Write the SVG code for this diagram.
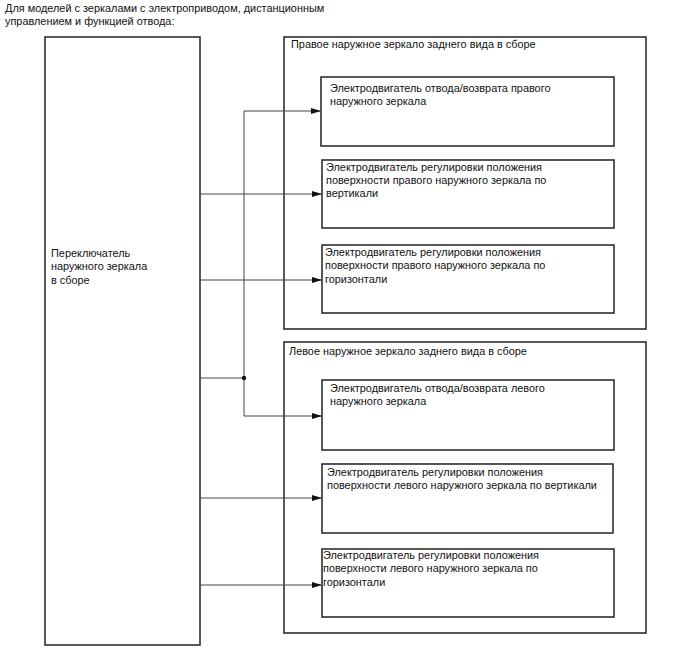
<svg xmlns="http://www.w3.org/2000/svg" width="688" height="658" viewBox="0 0 688 658">
<style>
text{font-family:"Liberation Sans",Arial,sans-serif;font-size:10.9px;fill:#111}
.box{fill:#fff;stroke:#222;stroke-width:1.5}
.ln{fill:none;stroke:#444;stroke-width:1}
</style>
<defs>
<marker id="ah" viewBox="0 0 10 6" refX="10" refY="3" markerWidth="10" markerHeight="6" markerUnits="userSpaceOnUse" orient="auto">
<path d="M0,0 L10,3 L0,6 z" fill="#111"/>
</marker>
</defs>
<rect width="688" height="658" fill="#fff"/>
<g id="title">
<text x="5" y="12">Для моделей с зеркалами с электроприводом, дистанционным</text>
<text x="5" y="25">управлением и функцией отвода:</text>
</g>
<g id="switch">
<rect class="box" x="45" y="37" width="155" height="608"/>
<text x="51" y="257">Переключатель</text>
<text x="51" y="270">наружного зеркала</text>
<text x="51" y="284">в сборе</text>
</g>
<g id="right-mirror">
<rect class="box" x="284" y="37" width="362" height="292"/>
<text x="291" y="48">Правое наружное зеркало заднего вида в сборе</text>
</g>
<g id="left-mirror">
<rect class="box" x="284" y="342" width="362" height="291"/>
<text x="289" y="355">Левое наружное зеркало заднего вида в сборе</text>
</g>
<g id="r-fold">
<rect class="box" x="321" y="77" width="293" height="69"/>
<text x="330" y="92">Электродвигатель отвода/возврата правого</text>
<text x="330" y="105">наружного зеркала</text>
</g>
<g id="r-vert">
<rect class="box" x="322" y="160" width="292" height="68"/>
<text x="326" y="171">Электродвигатель регулировки положения</text>
<text x="326" y="184">поверхности правого наружного зеркала по</text>
<text x="326" y="197">вертикали</text>
</g>
<g id="r-horiz">
<rect class="box" x="322" y="245" width="292" height="68"/>
<text x="325" y="256">Электродвигатель регулировки положения</text>
<text x="325" y="269">поверхности правого наружного зеркала по</text>
<text x="325" y="283">горизонтали</text>
</g>
<g id="l-fold">
<rect class="box" x="322" y="380" width="292" height="70"/>
<text x="330" y="392">Электродвигатель отвода/возврата левого</text>
<text x="330" y="405">наружного зеркала</text>
</g>
<g id="l-vert">
<rect class="box" x="322" y="464" width="291" height="69"/>
<text x="327" y="476">Электродвигатель регулировки положения</text>
<text x="327" y="489">поверхности левого наружного зеркала по вертикали</text>
</g>
<g id="l-horiz">
<rect class="box" x="322" y="549" width="292" height="68"/>
<text x="323" y="559">Электродвигатель регулировки положения</text>
<text x="323" y="572">поверхности левого наружного зеркала по</text>
<text x="323" y="586">горизонтали</text>
</g>
<g id="connectors">
<path class="ln" d="M200,378 H244"/>
<path class="ln" d="M244,416 V111 H321" marker-end="url(#ah)"/>
<path class="ln" d="M244,416 H322" marker-end="url(#ah)"/>
<circle cx="244" cy="378" r="2.2" fill="#111"/>
<path class="ln" d="M200,194 H322" marker-end="url(#ah)"/>
<path class="ln" d="M200,280 H322" marker-end="url(#ah)"/>
<path class="ln" d="M200,498 H322" marker-end="url(#ah)"/>
<path class="ln" d="M200,585 H322" marker-end="url(#ah)"/>
</g>
</svg>
